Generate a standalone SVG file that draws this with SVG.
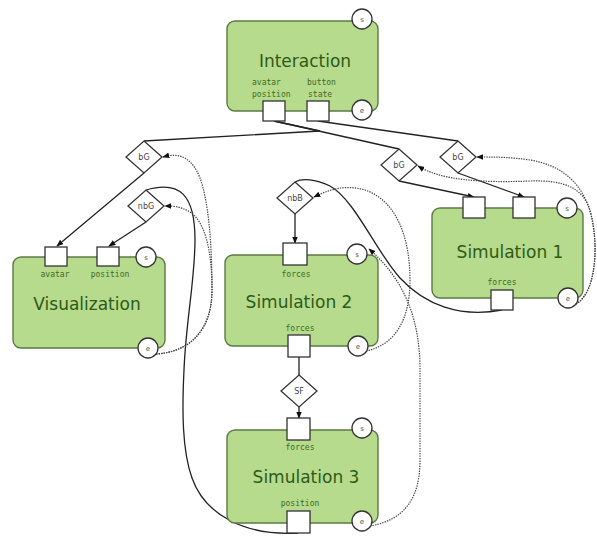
<svg xmlns="http://www.w3.org/2000/svg" width="597" height="537" viewBox="0 0 597 537">
  <style>
    .box { fill: #b6db8d; stroke: #5d7a46; stroke-width: 1.4; }
    .port { fill: #ffffff; stroke: #333333; stroke-width: 1.3; }
    .ev { fill: #ffffff; stroke: #333333; stroke-width: 1.3; }
    .evt { font-family: "DejaVu Sans", sans-serif; font-size: 7px; fill: #555555; text-anchor: middle; }
    .title { font-family: "DejaVu Sans", sans-serif; font-size: 17px; fill: #2e5a17; text-anchor: middle; }
    .plabel { font-family: "DejaVu Sans Mono", monospace; font-size: 8px; fill: #3d6a22; }
    .mid { text-anchor: middle; }
    .buf { fill: #ffffff; stroke: #333333; stroke-width: 1.3; }
    .btxt { font-family: "DejaVu Sans", sans-serif; font-size: 8px; fill: #444444; text-anchor: middle; }
    .wire { fill: none; stroke: #222222; stroke-width: 1.3; }
    .sync { fill: none; stroke: #444444; stroke-width: 1.2; stroke-dasharray: 1.4 1.1; }
  </style>
  <defs>
    <marker id="arrow" viewBox="0 0 10 10" refX="9" refY="5" markerUnits="userSpaceOnUse" markerWidth="7" markerHeight="7" orient="auto">
      <path d="M0,1 L10,5 L0,9 z" fill="#111111"/>
    </marker>
  </defs>

  <!-- connectors -->
  <g id="connectors">
    <!-- data flow -->
    <path class="wire" d="M274,121 L399,149"/>
    <path class="wire" d="M274,121 L320,131 L144,141"/>
    <path class="wire" d="M318,121 L458,141"/>
    <path class="wire" d="M144,173 L57,246" marker-end="url(#arrow)"/>
    <path class="wire" d="M146,222 L109,246" marker-end="url(#arrow)"/>
    <path class="wire" d="M399,181 L474,197" marker-end="url(#arrow)"/>
    <path class="wire" d="M458,173 L524,197" marker-end="url(#arrow)"/>
    <path class="wire" d="M295,214 L295,243" marker-end="url(#arrow)"/>
    <path class="wire" d="M299,357 L299,375"/>
    <path class="wire" d="M299,407 L299,418" marker-end="url(#arrow)"/>
    <path class="wire" d="M502,310 C460,318 425,305 400,278 C375,250 355,200 330,186 C315,179 302,178 295,182"/>
    <path class="wire" d="M298,533 C245,536 205,515 192,478 C182,450 182,410 184,370 C186,320 195,280 195,240 C195,195 180,180 146,190"/>
    <!-- triggers -->
    <path class="sync" d="M156,354 C190,352 212,330 212,290 C212,240 208,200 200,178 C192,158 180,152 163,157" marker-end="url(#arrow)"/>
    <path class="sync" d="M156,354 C190,352 212,330 212,290 C212,250 205,222 190,212 C180,206 172,206 165,206" marker-end="url(#arrow)"/>
    <path class="sync" d="M576,304 C600,290 598,230 588,205 C578,180 560,165 530,160 C510,157 495,157 477,157" marker-end="url(#arrow)"/>
    <path class="sync" d="M576,304 C600,290 598,230 588,205 C580,188 565,180 530,181 C480,183 440,180 418,166" marker-end="url(#arrow)"/>
    <path class="sync" d="M366,351 C395,345 410,320 410,280 C410,235 395,200 365,190 C345,184 328,190 314,197" marker-end="url(#arrow)"/>
    <path class="sync" d="M370,526 C405,520 420,498 420,460 L420,370 C420,320 405,280 369,249" marker-end="url(#arrow)"/>
  </g>

  <!-- buffers -->
  <g id="buf-bg-left">
    <polygon class="buf" points="144,141 162,157 144,173 126,157"/>
    <text class="btxt" x="144" y="160">bG</text>
  </g>
  <g id="buf-nbg">
    <polygon class="buf" points="146,190 164,206 146,222 128,206"/>
    <text class="btxt" x="146" y="209">nbG</text>
  </g>
  <g id="buf-bg-mid">
    <polygon class="buf" points="399,149 417,165 399,181 381,165"/>
    <text class="btxt" x="399" y="168">bG</text>
  </g>
  <g id="buf-bg-right">
    <polygon class="buf" points="458,141 476,157 458,173 440,157"/>
    <text class="btxt" x="458" y="160">bG</text>
  </g>
  <g id="buf-nbb">
    <polygon class="buf" points="295,182 313,198 295,214 277,198"/>
    <text class="btxt" x="295" y="201">nbB</text>
  </g>
  <g id="buf-sf">
    <polygon class="buf" points="299,375 317,391 299,407 281,391"/>
    <text class="btxt" x="299" y="394">SF</text>
  </g>

  <!-- components -->
  <g id="interaction">
    <rect class="box" x="227" y="21" width="151" height="90" rx="8"/>
    <text class="title" x="305" y="67">Interaction</text>
    <text class="plabel" x="252" y="85">avatar</text>
    <text class="plabel" x="252" y="97">position</text>
    <text class="plabel" x="307" y="85">button</text>
    <text class="plabel" x="308" y="97">state</text>
    <rect class="port" x="263" y="101" width="22" height="20"/>
    <rect class="port" x="307" y="101" width="22" height="20"/>
    <circle class="ev" cx="362" cy="19" r="10"/>
    <text class="evt" x="362" y="22">s</text>
    <circle class="ev" cx="362" cy="110" r="10"/>
    <text class="evt" x="362" y="113">e</text>
  </g>

  <g id="visualization">
    <rect class="box" x="13" y="257" width="152" height="91" rx="8"/>
    <text class="title" x="87" y="310">Visualization</text>
    <rect class="port" x="45" y="247" width="22" height="19"/>
    <rect class="port" x="97" y="247" width="22" height="19"/>
    <text class="plabel mid" x="55" y="277">avatar</text>
    <text class="plabel mid" x="110" y="277">position</text>
    <circle class="ev" cx="146" cy="257" r="10"/>
    <text class="evt" x="146" y="260">s</text>
    <circle class="ev" cx="148" cy="348" r="10"/>
    <text class="evt" x="148" y="351">e</text>
  </g>

  <g id="simulation-1">
    <rect class="box" x="432" y="208" width="151" height="90" rx="8"/>
    <text class="title" x="510" y="258">Simulation 1</text>
    <rect class="port" x="463" y="197" width="22" height="21"/>
    <rect class="port" x="513" y="197" width="22" height="21"/>
    <text class="plabel mid" x="502" y="285">forces</text>
    <rect class="port" x="491" y="290" width="22" height="20"/>
    <circle class="ev" cx="567" cy="208" r="10"/>
    <text class="evt" x="567" y="211">s</text>
    <circle class="ev" cx="568" cy="298" r="10"/>
    <text class="evt" x="568" y="301">e</text>
  </g>

  <g id="simulation-2">
    <rect class="box" x="225" y="255" width="153" height="91" rx="8"/>
    <text class="title" x="299" y="308">Simulation 2</text>
    <rect class="port" x="283" y="243" width="24" height="22"/>
    <text class="plabel mid" x="296" y="277">forces</text>
    <text class="plabel mid" x="300" y="331">forces</text>
    <rect class="port" x="288" y="335" width="22" height="22"/>
    <circle class="ev" cx="357" cy="254" r="10"/>
    <text class="evt" x="357" y="257">s</text>
    <circle class="ev" cx="358" cy="346" r="10"/>
    <text class="evt" x="358" y="349">e</text>
  </g>

  <g id="simulation-3">
    <rect class="box" x="227" y="430" width="151" height="93" rx="8"/>
    <text class="title" x="306" y="483">Simulation 3</text>
    <rect class="port" x="287" y="418" width="23" height="22"/>
    <text class="plabel mid" x="300" y="450">forces</text>
    <text class="plabel mid" x="300" y="506">position</text>
    <rect class="port" x="287" y="511" width="23" height="22"/>
    <circle class="ev" cx="362" cy="428" r="10"/>
    <text class="evt" x="362" y="431">s</text>
    <circle class="ev" cx="362" cy="521" r="10"/>
    <text class="evt" x="362" y="524">e</text>
  </g>
</svg>
